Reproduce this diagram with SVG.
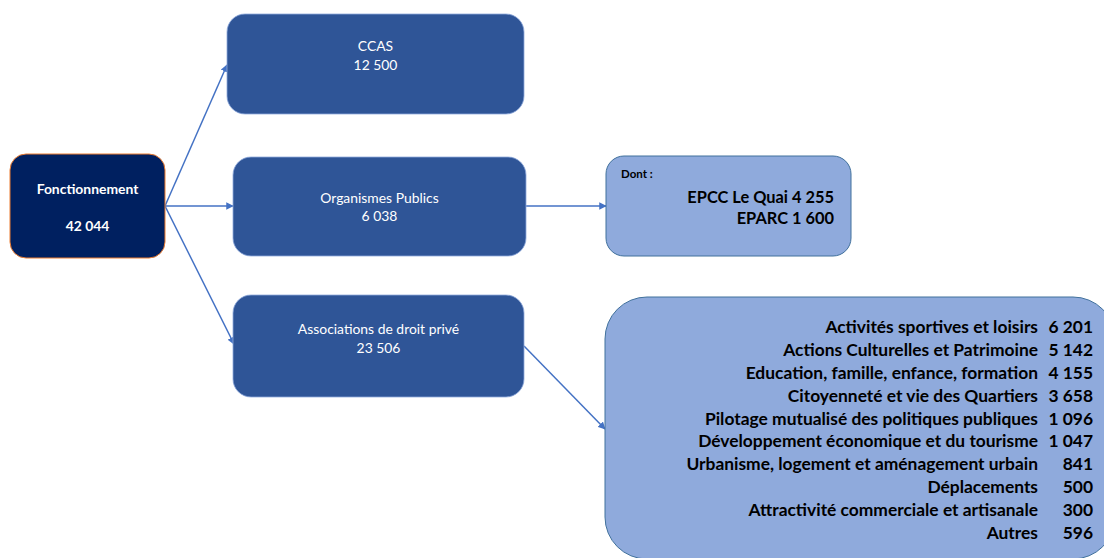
<svg xmlns="http://www.w3.org/2000/svg" width="1104" height="558" viewBox="0 0 1104 558">
<defs>
<style>
.dark{fill:#2F5597;stroke:#8FAADC;stroke-width:0.8}
.light{fill:#8FAADC;stroke:#41719C;stroke-width:1}
.w{fill:#FFFFFF;font-family:Lato,"Liberation Sans",sans-serif;font-size:13.9px;text-anchor:middle}
.b{fill:#000000;font-family:Lato,"Liberation Sans",sans-serif;font-weight:bold;text-anchor:end}
.conn{stroke:#4472C4;stroke-width:1.5;fill:none;marker-end:url(#ah)}
</style>
<marker id="ah" viewBox="0 0 10 10" refX="9" refY="5" markerWidth="5" markerHeight="5" orient="auto" markerUnits="strokeWidth">
<path d="M0,0 L10,5 L0,10 z" fill="#4472C4"/>
</marker>
</defs>
<rect width="1104" height="558" fill="#FFFFFF"/>
<g id="connectors">
<line class="conn" x1="165" y1="206" x2="227" y2="65"/>
<line class="conn" x1="165" y1="206" x2="233" y2="206"/>
<line class="conn" x1="165" y1="206" x2="234" y2="344"/>
<line class="conn" x1="526" y1="206" x2="606" y2="206"/>
<line class="conn" x1="524" y1="346" x2="605" y2="429"/>
</g>
<g id="fonctionnement">
<rect x="10" y="154" width="155" height="104" rx="16" fill="#002060" stroke="#ED7D31" stroke-width="1"/>
<text class="w" x="87.5" y="194" font-weight="bold" font-size="14.4">Fonctionnement</text>
<text class="w" x="87.5" y="231" font-weight="bold" font-size="14.4">42 044</text>
</g>
<g id="ccas">
<rect class="dark" x="227" y="14" width="297" height="100" rx="18"/>
<text class="w" x="375.5" y="51">CCAS</text>
<text class="w" x="375.5" y="70">12 500</text>
</g>
<g id="organismes">
<rect class="dark" x="233" y="157" width="293" height="99" rx="18"/>
<text class="w" x="379.5" y="203">Organismes Publics</text>
<text class="w" x="379.5" y="221">6 038</text>
</g>
<g id="associations">
<rect class="dark" x="233" y="295" width="291" height="102" rx="18"/>
<text class="w" x="378.5" y="334">Associations de droit privé</text>
<text class="w" x="378.5" y="353">23 506</text>
</g>
<g id="dont">
<rect class="light" x="606" y="156" width="245" height="100" rx="18"/>
<text class="b" x="621" y="178" font-size="11.5" style="text-anchor:start">Dont :</text>
<text class="b" x="834" y="203" font-size="16.4">EPCC Le Quai 4 255</text>
<text class="b" x="834" y="224" font-size="16.4">EPARC 1 600</text>
</g>
<g id="details">
<rect class="light" x="605" y="297" width="510" height="262" rx="42"/>
<g font-size="17.4">
<text class="b" x="1038" y="333">Activités sportives et loisirs</text>
<text class="b" x="1093" y="333">6 201</text>
<text class="b" x="1038" y="356">Actions Culturelles et Patrimoine</text>
<text class="b" x="1093" y="356">5 142</text>
<text class="b" x="1038" y="379">Education, famille, enfance, formation</text>
<text class="b" x="1093" y="379">4 155</text>
<text class="b" x="1038" y="402">Citoyenneté et vie des Quartiers</text>
<text class="b" x="1093" y="402">3 658</text>
<text class="b" x="1038" y="425">Pilotage mutualisé des politiques publiques</text>
<text class="b" x="1093" y="425">1 096</text>
<text class="b" x="1038" y="447">Développement économique et du tourisme</text>
<text class="b" x="1093" y="447">1 047</text>
<text class="b" x="1038" y="470">Urbanisme, logement et aménagement urbain</text>
<text class="b" x="1093" y="470">841</text>
<text class="b" x="1038" y="493">Déplacements</text>
<text class="b" x="1093" y="493">500</text>
<text class="b" x="1038" y="516">Attractivité commerciale et artisanale</text>
<text class="b" x="1093" y="516">300</text>
<text class="b" x="1038" y="539">Autres</text>
<text class="b" x="1093" y="539">596</text>
</g>
</g>
</svg>
